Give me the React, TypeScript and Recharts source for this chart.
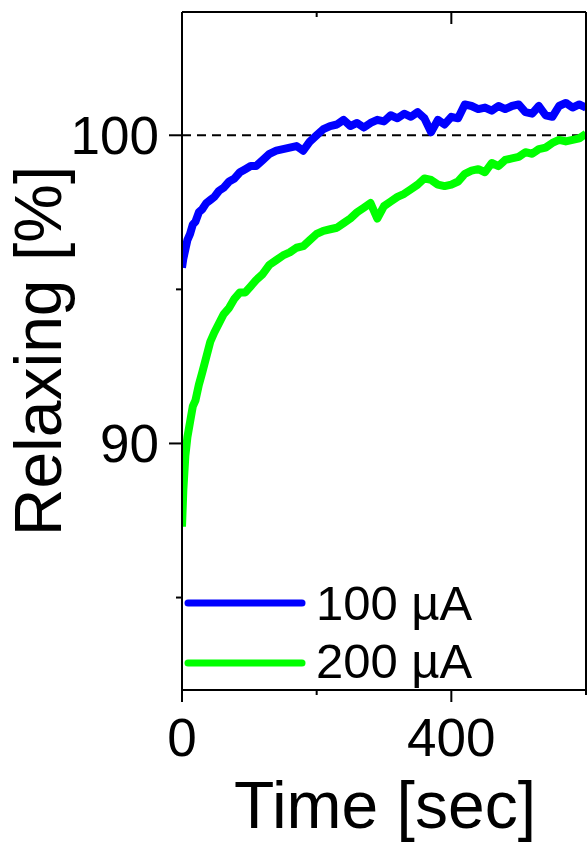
import React from 'react';
import {
  LineChart,
  Line,
  XAxis,
  YAxis,
  ReferenceLine,
  Legend,
  Label,
} from 'recharts';

const FONT = '"Liberation Sans", Arial, sans-serif';

// time [sec]
const times: number[] = [
  0, 2, 5, 8, 12, 16, 20, 25, 30, 36, 42, 48, 55, 62, 70, 78, 86, 94, 102, 110,
  120, 130, 140, 150, 160, 170, 180, 190, 200, 210, 220, 230, 240, 250, 260,
  270, 280, 290, 300, 310, 320, 330, 340, 350, 360, 370, 380, 390, 400, 410,
  420, 430, 440, 450, 460, 470, 480, 490, 500, 510, 520, 530, 540, 550, 560,
  570, 580, 590, 600,
];

// 100 µA
const relax100: number[] = [
  95.7, 96.0, 96.3, 96.6, 96.8, 97.1, 97.2, 97.5, 97.6, 97.8, 97.9, 98.0, 98.2,
  98.3, 98.5, 98.6, 98.8, 98.9, 99.0, 99.0,
  99.2, 99.4, 99.5, 99.55, 99.6, 99.65, 99.5, 99.8, 100.0, 100.2, 100.3, 100.35,
  100.5, 100.3, 100.4, 100.25, 100.4, 100.5, 100.45, 100.65, 100.55, 100.7,
  100.6, 100.75, 100.55, 100.1, 100.5, 100.35, 100.6, 100.55, 101.0, 100.95,
  100.85, 100.9, 100.8, 100.95, 100.85, 100.95, 101.0, 100.75, 100.7, 100.95,
  100.65, 100.6, 100.95, 101.05, 100.9, 101.0, 100.9,
];

// 200 µA
const relax200: number[] = [
  87.3, 88.5, 89.6, 90.2, 90.7, 91.2, 91.4, 91.9, 92.3, 92.8, 93.3, 93.6, 93.9,
  94.2, 94.4, 94.7, 94.9, 94.9, 95.1, 95.3,
  95.5, 95.8, 95.95, 96.1, 96.2, 96.35, 96.4, 96.6, 96.8, 96.9, 96.95, 97.0,
  97.15, 97.3, 97.5, 97.65, 97.8, 97.3, 97.7, 97.85, 98.0, 98.1, 98.25, 98.4,
  98.6, 98.55, 98.4, 98.35, 98.4, 98.5, 98.75, 98.85, 98.9, 98.8, 99.1, 99.0,
  99.2, 99.25, 99.3, 99.45, 99.4, 99.55, 99.6, 99.75, 99.85, 99.8, 99.85, 99.9,
  100.05,
];

const xTicks = [0, 200, 400, 600];
const xLabels = [0, 400];
const yTicks = [85, 90, 95, 100];
const yLabels = [90, 100];

const seriesNames = ['100 µA', '200 µA'];
const seriesColors = ['#0000ff', '#00ff00'];

const data = times.map((t, i) => ({
  t,
  a100: relax100[i],
  a200: relax200[i],
}));

type TickProps = { x?: number; y?: number; payload?: { value: number } };

const BottomTick = ({ x = 0, y = 0, payload }: TickProps) => {
  const v = payload ? payload.value : 0;
  const major = xLabels.includes(v);
  return (
    <g>
      <line x1={x} x2={x} y1={y} y2={y + (major ? 12 : 5)} stroke="#000" strokeWidth={2} />
      {major && (
        <text x={x} y={y + 66} textAnchor="middle" fontSize={53} fontFamily={FONT} fill="#000">
          {v}
        </text>
      )}
    </g>
  );
};

const TopTick = ({ x = 0, y = 0, payload }: TickProps) => {
  const v = payload ? payload.value : 0;
  const major = xLabels.includes(v);
  return <line x1={x} x2={x} y1={y} y2={y + (major ? 12 : 5)} stroke="#000" strokeWidth={2} />;
};

const LeftTick = ({ x = 0, y = 0, payload }: TickProps) => {
  const v = payload ? payload.value : 0;
  const major = yLabels.includes(v);
  return (
    <g>
      <line x1={x - (major ? 13 : 6)} x2={x} y1={y} y2={y} stroke="#000" strokeWidth={2} />
      {major && (
        <text x={x - 23} y={y + 19} textAnchor="end" fontSize={53} fontFamily={FONT} fill="#000">
          {v}
        </text>
      )}
    </g>
  );
};

const RightTick = ({ x = 0, y = 0, payload }: TickProps) => {
  const v = payload ? payload.value : 0;
  const major = yLabels.includes(v);
  return <line x1={x - (major ? 10 : 6)} x2={x} y1={y} y2={y} stroke="#000" strokeWidth={2} />;
};

const LegendBox = () => (
  <svg width={300} height={140}>
    {seriesNames.map((name, i) => (
      <g key={name}>
        <line x1={6} x2={120} y1={35 + i * 60} y2={35 + i * 60} stroke={seriesColors[i]} strokeWidth={7} strokeLinecap="round" />
        <text x={134} y={52 + i * 58} fontSize={49} fontFamily={FONT} fill="#000">
          {name}
        </text>
      </g>
    ))}
  </svg>
);

const App: React.FC = () => {
  return (
    <div style={{ position: 'absolute', left: 0, top: 0, width: 588, height: 849, background: '#fff' }}>
      <LineChart width={588} height={849} data={data} margin={{ top: 11, right: 1, left: 0, bottom: 0 }}>
        <XAxis
          dataKey="t"
          type="number"
          domain={[0, 600]}
          ticks={xTicks}
          height={159}
          tickLine={false}
          tickSize={0}
          tickMargin={0}
          tick={<BottomTick />}
          axisLine={{ stroke: '#000', strokeWidth: 2 }}
          interval={0}
          allowDataOverflow
        >
          <Label
            content={() => (
              <text x={385} y={828} textAnchor="middle" fontSize={66} fontFamily={FONT} fill="#000">
                Time [sec]
              </text>
            )}
          />
        </XAxis>
        <XAxis
          xAxisId="top"
          orientation="top"
          dataKey="t"
          type="number"
          domain={[0, 600]}
          ticks={xTicks}
          height={1}
          tickLine={false}
          tickSize={0}
          tickMargin={0}
          tick={<TopTick />}
          axisLine={{ stroke: '#000', strokeWidth: 2 }}
          interval={0}
        />
        <YAxis
          type="number"
          domain={[82, 104]}
          ticks={yTicks}
          width={182}
          tickLine={false}
          tickSize={0}
          tickMargin={0}
          tick={<LeftTick />}
          axisLine={{ stroke: '#000', strokeWidth: 2 }}
          interval={0}
          allowDataOverflow
        >
          <Label
            content={() => (
              <text
                x={61}
                y={351}
                transform="rotate(-90 61 351)"
                textAnchor="middle"
                fontSize={66}
                fontFamily={FONT}
                fill="#000"
              >
                Relaxing [%]
              </text>
            )}
          />
        </YAxis>
        <YAxis
          yAxisId="right"
          orientation="right"
          type="number"
          domain={[82, 104]}
          ticks={yTicks}
          width={1}
          tickLine={false}
          tickSize={0}
          tickMargin={0}
          tick={<RightTick />}
          axisLine={{ stroke: '#000', strokeWidth: 2 }}
          interval={0}
        />
        <ReferenceLine y={100} stroke="#000" strokeWidth={2} strokeDasharray="9 6" />
        <Line
          dataKey="a200"
          name={seriesNames[1]}
          stroke={seriesColors[1]}
          strokeWidth={8}
          dot={false}
          strokeLinejoin="round"
          isAnimationActive={false}
        />
        <Line
          dataKey="a100"
          name={seriesNames[0]}
          stroke={seriesColors[0]}
          strokeWidth={8}
          dot={false}
          strokeLinejoin="round"
          isAnimationActive={false}
        />
        <Legend
          layout="horizontal"
          verticalAlign="middle"
          align="center"
          content={<LegendBox />}
          wrapperStyle={{ position: 'absolute', left: 182, top: 568, width: 300, height: 140 }}
        />
      </LineChart>
    </div>
  );
};

export default App;
